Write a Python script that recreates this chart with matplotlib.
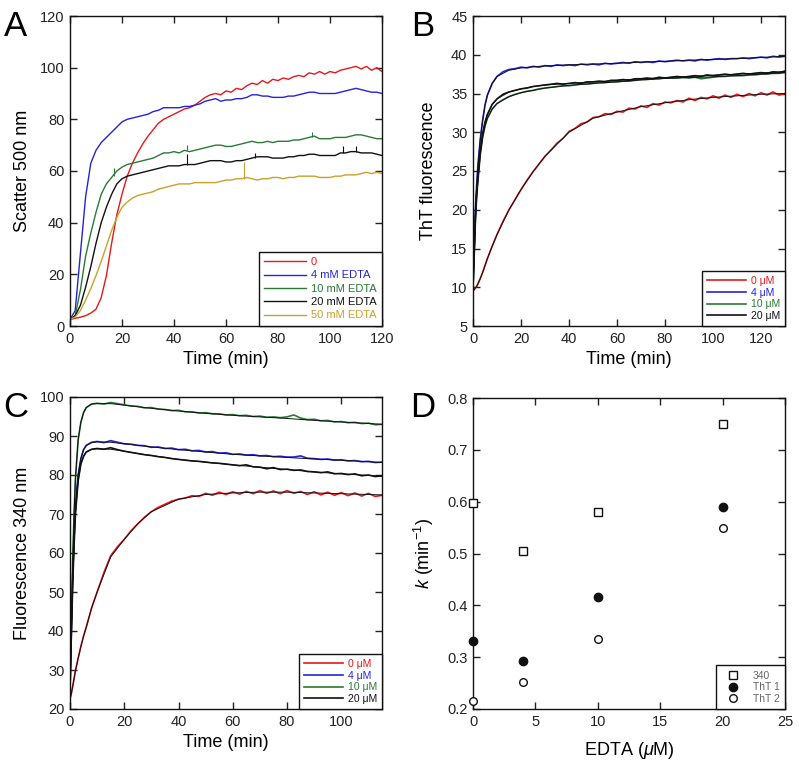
import matplotlib
matplotlib.use("Agg")
import matplotlib.pyplot as plt
import numpy as np

plt.rcParams['font.family'] = ['Liberation Sans', 'DejaVu Sans']
plt.rcParams['mathtext.fontset'] = 'custom'
plt.rcParams['mathtext.rm'] = 'Liberation Sans'
plt.rcParams['mathtext.it'] = 'Liberation Sans:italic'

# ---------------- Panel A data ----------------
tA = list(range(0, 121, 2))
A_labels = ['0', '4 mM EDTA', '10 mM EDTA', '20 mM EDTA', '50 mM EDTA']
A_red = [2.5, 3.0, 3.4, 4.0, 5.0, 6.5, 11, 19.5, 32, 43, 51, 58, 63, 67, 70.5, 73.5, 76, 78.5, 80, 81,
         82, 83, 84, 84.5, 85.5, 87, 88.5, 89.5, 90, 89.5, 91, 90.5, 92, 91.5, 93, 94, 93.5, 95, 94, 95.5,
         95, 96, 95.5, 96.5, 97, 96.5, 98, 97.5, 98.5, 97.5, 98.5, 98, 99, 99.5, 100, 100.5, 99.5, 100.5, 99, 100, 98.5]
A_blue = [2.5, 6, 28, 50, 63, 68, 71, 73, 75, 77, 79, 80, 80.5, 81, 81.5, 82, 83, 83.5, 84.5, 84.5,
          84.5, 84.5, 85, 85, 85.5, 86, 87, 87.5, 88, 87, 87.5, 87.5, 88, 88, 88.5, 89.5, 89.5, 89, 89, 88.5,
          88.5, 88.5, 89, 89, 89.5, 90, 90.5, 90.5, 90, 90, 90, 90, 90.5, 91, 91.5, 92, 91.5, 91, 90.5, 90.5, 90]
A_green = [2.5, 4, 14, 27, 36, 44, 51, 55, 57.5, 60, 61.5, 62.5, 63, 63.5, 64, 64.5, 65, 66, 67, 67,
           67.5, 67, 68, 67.5, 68, 68.5, 69, 69.5, 70, 70, 69.5, 69.5, 70, 70.5, 71, 71.5, 71, 71, 71.5, 71,
           71.5, 71.5, 71.5, 72, 72, 72.5, 73, 73.5, 72.5, 72.5, 72.5, 73, 73, 73, 73.5, 74, 74, 73.5, 73, 72.5, 72.5]
A_black = [2.5, 4, 8, 15, 23, 32, 40, 46, 51, 55, 57, 58, 58.5, 59, 59.5, 60, 60.5, 61, 61.5, 62,
           62, 62, 62.5, 62.5, 62.5, 63, 63.5, 64, 64, 64, 63.5, 63.5, 64, 64, 64.5, 65, 65.5, 65.5, 65.5, 65,
           65, 65, 65.5, 65.5, 66, 66, 66.5, 66.5, 66, 66, 66, 66, 67, 67, 67.5, 67.5, 67, 67, 67, 66.5, 66]
A_gold = [2.5, 3.5, 6, 10, 14.5, 19.5, 25, 31, 37, 42, 46, 48, 49.5, 50.5, 51, 51.5, 52, 53, 53.5, 54,
          54.5, 55, 55, 55, 55.5, 55.5, 55.5, 55.5, 55.5, 56, 56.5, 56.5, 57, 57, 57.5, 57, 56.5, 57, 57, 57.5,
          57.5, 57, 57.5, 57.5, 58, 58, 58, 58, 57.5, 57.5, 57.5, 58, 58, 58.5, 58.5, 58.5, 59, 59.5, 59, 59.5, 59]
# spikes (time, base, top)
A_green_spikes_t = [17, 45, 93]
A_green_spikes_lo = [58, 68, 73]
A_green_spikes_hi = [61, 70, 75]
A_black_spikes_t = [45, 71, 105, 110]
A_black_spikes_lo = [62.5, 65, 67, 67.5]
A_black_spikes_hi = [66.5, 67, 69.5, 69.5]
A_gold_spikes_t = [67]
A_gold_spikes_lo = [57]
A_gold_spikes_hi = [63.5]

# ---------------- Panel B data ----------------
tB = [0, 0.5, 1, 1.5, 2, 3, 4, 5, 6, 8] + [10 + 2.5 * i for i in range(49)]
B_labels = ['0 \u03bcM', '4 \u03bcM', '10 \u03bcM', '20 \u03bcM']
B_red = [9.5, 9.7, 9.9, 10.1, 10.4, 11.1, 11.9, 12.8, 13.7, 15.3,
         16.8, 18.5, 20.0, 21.3, 22.6, 23.8, 24.9, 25.9, 26.9, 27.7, 28.6, 29.2, 30.1, 30.5, 31.1, 31.3, 31.9,
         32.0, 32.4, 32.3, 32.7, 32.6, 33.1, 33.0, 33.4, 33.2, 33.7, 33.5, 33.9, 33.8, 34.1, 33.9, 34.4, 34.1,
         34.5, 34.3, 34.7, 34.4, 34.8, 34.5, 34.9, 34.6, 35.0, 34.7, 35.1, 34.8, 35.2, 34.8, 35.0]
B_blue = [10, 15, 20, 23, 25.5, 29, 31.5, 33.5, 34.8, 36.3,
          37.2, 37.8, 38.1, 38.2, 38.4, 38.3, 38.5, 38.4, 38.6, 38.5, 38.7, 38.6, 38.7, 38.6, 38.8, 38.7, 38.8,
          38.7, 38.9, 38.8, 38.9, 39.0, 38.9, 39.1, 39.0, 39.1, 39.0, 39.2, 39.1, 39.2, 39.3, 39.2, 39.3, 39.2,
          39.4, 39.3, 39.4, 39.5, 39.4, 39.5, 39.5, 39.6, 39.5, 39.6, 39.7, 39.6, 39.8, 39.7, 39.8]
B_green = [10, 14, 18.5, 21.5, 23.5, 27, 29.3, 30.8, 31.8, 33.0,
           33.7, 34.2, 34.6, 34.9, 35.1, 35.3, 35.4, 35.6, 35.7, 35.8, 35.9, 36.0, 36.0, 36.1, 36.2, 36.2, 36.3,
           36.4, 36.4, 36.5, 36.5, 36.6, 36.6, 36.7, 36.8, 36.8, 36.9, 36.9, 37.0, 37.0, 37.0, 37.1, 37.0, 37.1,
           36.9, 37.0, 37.1, 37.2, 37.2, 37.3, 37.3, 37.3, 37.4, 37.4, 37.5, 37.5, 37.6, 37.6, 37.7]
B_black = [10, 14.5, 19, 22, 24, 27.5, 29.8, 31.3, 32.3, 33.6,
           34.3, 34.9, 35.2, 35.4, 35.6, 35.7, 35.9, 36.0, 36.1, 36.2, 36.3, 36.2, 36.3, 36.4, 36.3, 36.5, 36.5,
           36.6, 36.5, 36.7, 36.7, 36.8, 36.7, 36.9, 36.9, 37.0, 36.9, 37.1, 37.0, 37.1, 37.2, 37.1, 37.2, 37.3,
           37.2, 37.4, 37.3, 37.4, 37.5, 37.4, 37.5, 37.6, 37.5, 37.6, 37.7, 37.6, 37.8, 37.7, 37.9]
tBf = [0, 0.5, 1, 1.5, 2, 3, 4, 5, 6, 8, 10, 15, 20, 25, 30, 40, 50, 60, 70, 80, 90, 100, 110, 120, 130]
B_red_fit = [9.5, 9.7, 9.9, 10.1, 10.4, 11.1, 11.9, 12.8, 13.7, 15.3, 16.8, 20.0, 22.6, 24.9, 26.9, 30.0,
             31.8, 32.6, 33.3, 33.8, 34.2, 34.5, 34.7, 34.9, 35.0]
B_blue_fit = [10, 15, 20, 23, 25.5, 29, 31.5, 33.5, 34.8, 36.3, 37.2, 38.0, 38.3, 38.45, 38.55, 38.7,
              38.8, 38.9, 39.05, 39.15, 39.3, 39.4, 39.5, 39.65, 39.8]
B_green_fit = [10, 14, 18.5, 21.5, 23.5, 27, 29.3, 30.8, 31.8, 33.0, 33.7, 34.6, 35.1, 35.4, 35.7, 36.05,
               36.3, 36.5, 36.75, 36.95, 37.05, 37.15, 37.3, 37.5, 37.7]
B_black_fit = [10, 14.5, 19, 22, 24, 27.5, 29.8, 31.3, 32.3, 33.6, 34.3, 35.2, 35.6, 35.9, 36.1, 36.3,
               36.5, 36.7, 36.9, 37.05, 37.2, 37.35, 37.5, 37.65, 37.85]

# ---------------- Panel C data ----------------
tC = [0, 0.5, 1, 1.5, 2, 3, 4, 5, 6, 8] + [10 + 2.5 * i for i in range(43)]
C_labels = ['0 \u03bcM', '4 \u03bcM', '10 \u03bcM', '20 \u03bcM']
C_red = [22.5, 24, 25.8, 27.8, 29.8, 33, 36, 38.7, 41, 46,
         50, 55, 59.3, 61.6, 63.5, 65.7, 67.5, 69.2, 70.6, 71.7, 72.5, 73.3, 73.8, 74.1, 74.7, 74.5, 75.3,
         74.8, 75.6, 75.0, 75.7, 75.1, 75.8, 75.2, 76.0, 75.3, 75.9, 75.2, 76.0, 75.3, 75.8, 75.0, 75.7,
         74.9, 75.6, 74.8, 75.5, 74.7, 75.4, 74.6, 75.3, 74.5, 74.8]
C_blue = [25, 40, 54, 64, 72, 80, 84.2, 86.5, 87.6, 88.4,
          88.6, 88.3, 88.8, 88.4, 88.0, 87.9, 87.6, 87.5, 87.1, 87.2, 86.8, 86.9, 86.5, 86.6, 86.2, 86.3, 85.9,
          86.0, 85.6, 85.7, 85.3, 85.4, 85.1, 85.2, 84.9, 85.0, 84.7, 84.8, 84.6, 84.6, 84.9, 84.3, 84.2,
          84.0, 84.1, 83.8, 83.9, 83.6, 83.7, 83.4, 83.5, 83.2, 83.3]
C_green = [25, 42, 58, 70, 79, 89, 93.5, 96, 97.3, 98.2,
           98.4, 98.2, 98.6, 98.3, 98.0, 97.7, 97.6, 97.2, 97.3, 96.9, 96.8, 96.5, 96.6, 96.2, 96.2, 95.9, 96.0,
           95.7, 95.7, 95.4, 95.5, 95.2, 95.3, 95.0, 95.1, 94.8, 94.9, 94.7, 94.9, 95.4, 94.6, 94.2, 94.3,
           93.9, 94.0, 93.6, 93.7, 93.4, 93.5, 93.2, 93.3, 92.9, 93.0]
C_black = [25, 39, 52, 62, 70, 78.5, 82.8, 84.8, 85.9, 86.6,
           86.8, 86.6, 87.0, 86.5, 86.1, 85.8, 85.5, 85.2, 85.0, 84.7, 84.5, 84.2, 84.0, 83.8, 83.6, 83.5, 83.3,
           83.1, 83.0, 82.8, 82.6, 82.4, 82.6, 82.1, 82.0, 81.6, 81.9, 81.4, 81.5, 81.2, 81.3, 80.9, 80.8,
           80.6, 80.8, 80.3, 80.4, 80.1, 80.3, 79.8, 80.0, 79.6, 79.8]
tCf = [0, 0.5, 1, 1.5, 2, 3, 4, 5, 6, 8, 10, 15, 20, 25, 30, 40, 50, 60, 70, 80, 90, 100, 110, 115]
C_red_fit = [22.5, 24, 25.8, 27.8, 29.8, 33, 36, 38.7, 41, 46, 50, 59, 63.5, 67.5, 70.6, 73.8, 75.0,
             75.4, 75.6, 75.6, 75.4, 75.2, 75.0, 74.9]
C_blue_fit = [25, 40, 54, 64, 72, 80, 84.2, 86.5, 87.6, 88.3, 88.5, 88.4, 88.0, 87.6, 87.2, 86.5, 85.9,
              85.3, 84.9, 84.5, 84.1, 83.8, 83.4, 83.2]
C_green_fit = [25, 42, 58, 70, 79, 89, 93.5, 96, 97.3, 98.2, 98.3, 98.3, 97.9, 97.5, 97.1, 96.4, 95.8,
               95.3, 94.9, 94.5, 94.0, 93.6, 93.2, 93.0]
C_black_fit = [25, 39, 52, 62, 70, 78.5, 82.8, 84.8, 85.9, 86.6, 86.7, 86.6, 86.1, 85.5, 85.0, 84.0,
               83.3, 82.6, 82.0, 81.4, 80.8, 80.3, 79.9, 79.7]

# ---------------- Panel D data ----------------
D_edta = [0, 4, 10, 20]
D_340 = [0.598, 0.505, 0.580, 0.750]
D_tht1 = [0.332, 0.292, 0.417, 0.590]
D_tht2 = [0.216, 0.253, 0.335, 0.549]
D_labels = ['340', 'ThT 1', 'ThT 2']

RED = '#e3191c'
BLUE = '#2424d6'
GREEN = '#2a7a35'
BLACK = '#111111'
GOLD = '#c9a12c'

fig = plt.figure(figsize=(7.99, 7.63), dpi=100)
W, H = 799, 763

def ax_at(l, t, r, b):
    return fig.add_axes([l / W, 1 - b / H, (r - l) / W, (b - t) / H])

axA = ax_at(70, 16, 382, 326)
axB = ax_at(473, 16, 785, 326)
axC = ax_at(70, 397, 382, 709)
axD = ax_at(473, 398, 785, 709)

def style(ax):
    ax.tick_params(direction='in', top=True, right=True, length=5, width=1,
                   labelsize=10.5, pad=4, colors='#222222')
    for s in ax.spines.values():
        s.set_linewidth(1.0)
        s.set_color('#111111')

def legend(ax, colors, fs=7.5, spacing=0.15):
    leg = ax.legend(loc='lower right', borderaxespad=0, fancybox=False, fontsize=fs,
                    handlelength=3.8, handletextpad=0.4, labelspacing=spacing,
                    borderpad=0.5, framealpha=1, edgecolor='#111111')
    leg.get_frame().set_linewidth(1.0)
    for txt, c in zip(leg.get_texts(), colors):
        txt.set_color(c)
    return leg

# Panel A
colsA = [RED, BLUE, GREEN, BLACK, GOLD]
for ys, c, lab in zip([A_red, A_blue, A_green, A_black, A_gold], colsA, A_labels):
    axA.plot(tA, ys, color=c, lw=1.0, label=lab)
axA.vlines(A_green_spikes_t, A_green_spikes_lo, A_green_spikes_hi, color=GREEN, lw=0.8)
axA.vlines(A_black_spikes_t, A_black_spikes_lo, A_black_spikes_hi, color=BLACK, lw=0.8)
axA.vlines(A_gold_spikes_t, A_gold_spikes_lo, A_gold_spikes_hi, color=GOLD, lw=0.8)
axA.set_xlim(0, 120)
axA.set_ylim(0, 120)
axA.set_xticks(range(0, 121, 20))
axA.set_yticks(range(0, 121, 20))
axA.set_xlabel('Time (min)', fontsize=13, labelpad=4)
axA.set_ylabel('Scatter 500 nm', fontsize=13, labelpad=6)
style(axA)
legend(axA, colsA, fs=8, spacing=0.3)

# Panel B
colsB = [RED, BLUE, GREEN, BLACK]
for ys, c, lab in zip([B_red, B_blue, B_green, B_black], colsB, B_labels):
    axB.plot(tB, ys, color=c, lw=1.2, label=lab)
for ys in [B_red_fit, B_blue_fit, B_green_fit, B_black_fit]:
    axB.plot(tBf, ys, color=BLACK, lw=0.7)
axB.set_xlim(0, 130)
axB.set_ylim(5, 45)
axB.set_xticks(range(0, 121, 20))
axB.set_yticks(range(5, 46, 5))
axB.set_xlabel('Time (min)', fontsize=13, labelpad=4)
axB.set_ylabel('ThT fluorescence', fontsize=13, labelpad=10)
style(axB)
legend(axB, colsB)

# Panel C
for ys, c, lab in zip([C_red, C_blue, C_green, C_black], colsB, C_labels):
    axC.plot(tC, ys, color=c, lw=1.2, label=lab)
for ys in [C_red_fit, C_blue_fit, C_green_fit, C_black_fit]:
    axC.plot(tCf, ys, color=BLACK, lw=0.7)
axC.set_xlim(0, 115)
axC.set_ylim(20, 100)
axC.set_xticks(range(0, 101, 20))
axC.set_yticks(range(20, 101, 10))
axC.set_xlabel('Time (min)', fontsize=13, labelpad=4)
axC.set_ylabel('Fluorescence 340 nm', fontsize=13, labelpad=6)
style(axC)
legend(axC, colsB)

# Panel D
axD.plot(D_edta, D_340, ls='none', marker='s', ms=5.5, mfc='white', mec='#111111', mew=1.0,
         label=D_labels[0], clip_on=False, zorder=3)
axD.plot(D_edta, D_tht1, ls='none', marker='o', ms=6, mfc='#111111', mec='#111111', mew=1.0,
         label=D_labels[1], clip_on=False, zorder=3)
axD.plot(D_edta, D_tht2, ls='none', marker='o', ms=5.5, mfc='white', mec='#111111', mew=1.0,
         label=D_labels[2], clip_on=False, zorder=3)
axD.set_xlim(0, 25)
axD.set_ylim(0.2, 0.8)
axD.set_xticks(range(0, 26, 5))
axD.set_yticks([0.2, 0.3, 0.4, 0.5, 0.6, 0.7, 0.8])
axD.set_xlabel(r'EDTA ($\mu$M)', fontsize=13, labelpad=8)
axD.set_ylabel(r'$k$ (min$^{-1}$)', fontsize=13, labelpad=8)
style(axD)
legD = axD.legend(loc='lower right', borderaxespad=0, fancybox=False, fontsize=7.5,
                  handlelength=2.2, handletextpad=0.8, labelspacing=0.15, borderpad=0.5,
                  framealpha=1, edgecolor='#111111')
legD.get_frame().set_linewidth(1.0)
for txt in legD.get_texts():
    txt.set_color('#666666')

# Panel letters
for x, y, s in [(4, 10, 'A'), (411, 10, 'B'), (3, 391, 'C'), (410, 391, 'D')]:
    fig.text(x / W, 1 - y / H, s, fontsize=25, va='top', ha='left')

fig.savefig('out.png', dpi=100)
